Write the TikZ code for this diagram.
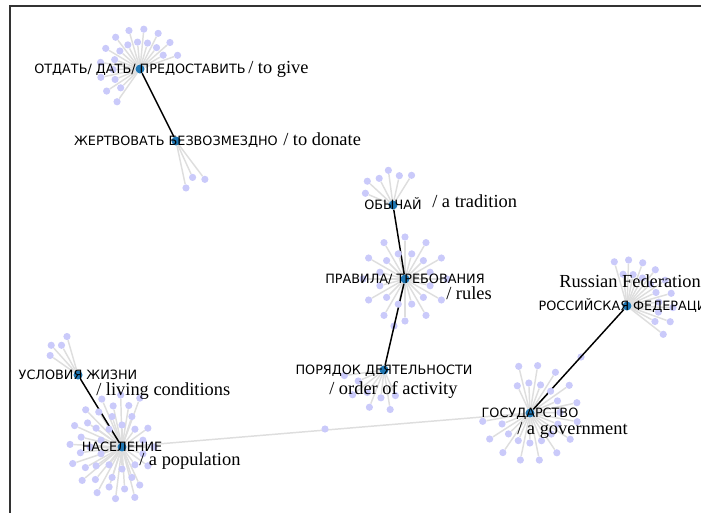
\documentclass[tikz,border=0pt]{standalone}
\usepackage{fontspec}
\newfontfamily\rufont{DejaVu Sans}
\newfontfamily\enfont{Liberation Serif}
\usetikzlibrary{calc}
\definecolor{hubblue}{RGB}{31,119,180}
\definecolor{leafblue}{RGB}{202,202,250}
\definecolor{twiggray}{RGB}{222,222,222}
\pgfdeclarelayer{twigs}
\pgfdeclarelayer{links}
\pgfsetlayers{twigs,links,main}
% leaves round a hub: hub, prefix, first angle, last angle, count, radius a, radius b
\newcommand\leaffan[7]{%
  \foreach \i in {1,...,#5}{
    \pgfmathsetmacro\ang{-((#3)+((#4)-(#3))*(\i-1)/max((#5)-1,1))}
    \pgfmathsetmacro\rad{isodd(\i) ? #7 : #6}
    \node[leaf] (#2-\i) at ($(#1)+(\ang:\rad)$) {};
    \begin{pgfonlayer}{twigs}\draw[twig] (#1) -- (#2-\i);\end{pgfonlayer}
  }}

\begin{document}
\begin{tikzpicture}
  [x=0.75pt, y=-0.75pt,
  hub/.style={circle, fill=hubblue, inner sep=0, minimum size=6.8pt},
  leaf/.style={circle, fill=leafblue, inner sep=0, minimum size=5.4pt},
  twig/.style={twiggray, line width=1.1pt},
  link/.style={black, line width=1.1pt},
  ru/.style={font=\rufont\fontsize{9.6}{11}\selectfont, anchor=base, yshift=-3.5pt, inner sep=0},
  en/.style={font=\enfont\fontsize{13.8}{16}\selectfont, anchor=base west, inner sep=0}]
  \useasboundingbox (0,0) rectangle (701,513);
  \draw[line width=0.8pt, black!80] (10,530) -- (10,6) -- (720,6);

  \node[hub] (give) at (140,69) {};
  \node[hub] (donate) at (176,141) {};
  \node[hub] (custom) at (393,205) {};
  \node[hub] (rules) at (405,279) {};
  \node[hub] (order) at (384,370) {};
  \node[hub] (state) at (530,413) {};
  \node[hub] (rf) at (627,306) {};
  \node[hub] (living) at (78,375) {};
  \node[hub] (people) at (122,447) {};

  \leaffan{give}{give}{20}{235}{21}{27}{40}
  \leaffan{donate}{donate}{-78}{-53}{3}{40}{48}
  \leaffan{custom}{custom}{58}{157}{6}{30}{35}
  \leaffan{rules}{rules}{0}{345}{24}{26}{42}
  \leaffan{order}{order}{-172}{-66}{8}{28}{40}
  \leaffan{state}{state}{-170}{115}{26}{30}{48}
  \leaffan{rf}{rf}{-38}{106}{17}{32}{46}
  \leaffan{living}{living}{106}{145}{4}{34}{40}
  \leaffan{people}{people-a}{0}{342}{20}{22}{32}
  \leaffan{people}{people-b}{70}{295}{22}{42}{52}

  \begin{pgfonlayer}{twigs}
    \draw[twig] (people) -- (state);
    \node[leaf] (mid1) at (325,429) {};
    \node[leaf] (mid2) at (394,326) {};
    \node[leaf] (mid3) at (581,357) {};
  \end{pgfonlayer}
  \begin{pgfonlayer}{links}
    \draw[link] (give) -- (donate);
    \draw[link] (custom) -- (rules);
    \draw[link] (rules) -- (order);
    \draw[link] (rf) -- (state);
    \draw[link] (living) -- (people);
  \end{pgfonlayer}

  \node[ru] (give-ru) at (give) {ОТДАТЬ/ ДАТЬ/ ПРЕДОСТАВИТЬ};
  \node[en] (give-en) at (248,74) {/ to give};
  \node[ru] (donate-ru) at (donate) {ЖЕРТВОВАТЬ БЕЗВОЗМЕЗДНО};
  \node[en] (donate-en) at (283,146) {/ to donate};
  \node[ru] (custom-ru) at (custom) {ОБЫЧАЙ};
  \node[en] (custom-en) at (432,208) {/ a tradition};
  \node[ru] (rules-ru) at (rules) {ПРАВИЛА/ ТРЕБОВАНИЯ};
  \node[en] (rules-en) at (446,300) {/ rules};
  \node[ru] (order-ru) at (order) {ПОРЯДОК ДЕЯТЕЛЬНОСТИ};
  \node[en] (order-en) at (329,395) {/ order of activity};
  \node[ru] (state-ru) at (state) {ГОСУДАРСТВО};
  \node[en] (state-en) at (517,435) {/ a government};
  \node[ru] (rf-ru) at (rf) {РОССИЙСКАЯ ФЕДЕРАЦИЯ};
  \node[en] (rf-en) at (559,288) {Russian Federation};
  \node[ru] (living-ru) at (living) {УСЛОВИЯ ЖИЗНИ};
  \node[en] (living-en) at (96,396) {/ living conditions};
  \node[ru] (people-ru) at (people) {НАСЕЛЕНИЕ};
  \node[en] (people-en) at (139,466) {/ a population};
\end{tikzpicture}
\end{document}
